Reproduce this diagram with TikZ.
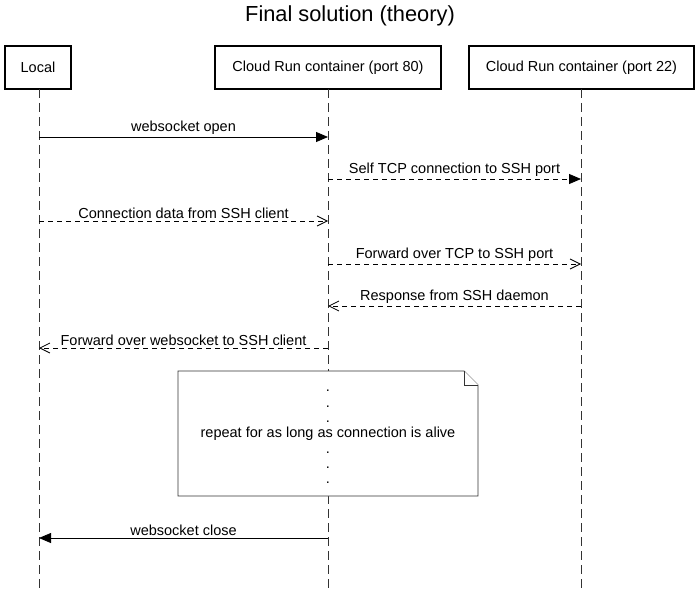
\documentclass[tikz,border=0pt]{standalone}
\usepackage{fontspec}
\setmainfont{Liberation Sans}
\usetikzlibrary{arrows.meta}
\begin{document}
\begin{tikzpicture}[x=1pt,y=-1pt,
  actor/.style={draw=black,line width=1.8pt,minimum height=43pt,inner sep=0pt,font=\fontsize{14.5}{17}\selectfont},
  life/.style={draw=black!80,line width=0.8pt,dash pattern=on 9pt off 5pt},
  msg/.style={font=\fontsize{14.5}{17}\selectfont,inner sep=1pt},
  solidmsg/.style={draw=black,line width=0.8pt,-{Triangle[length=12pt,width=10pt]}},
  dashfill/.style={draw=black,line width=0.8pt,dash pattern=on 5pt off 4pt,-{Triangle[length=12pt,width=10pt]}},
  dashopen/.style={draw=black,line width=0.8pt,dash pattern=on 5pt off 4pt,-{Straight Barb[length=10pt,width=10pt,line width=0.8pt]}},
  notebox/.style={draw=black!80,fill=white,line width=0.8pt}]
\useasboundingbox (0,0) rectangle (700,588);
\node[font=\fontsize{21.8}{25}\selectfont] (title) at (350,16) {Final solution (theory)};
% actors
\node[actor,minimum width=66pt] (A) at (38,67.5) {Local};
\node[actor,minimum width=226pt] (B) at (328,67.5) {Cloud Run container (port 80)};
\node[actor,minimum width=225pt] (C) at (581.5,67.5) {Cloud Run container (port 22)};
% lifeline ends
\coordinate (Ae) at (39,588);
\coordinate (Be) at (328,588);
\coordinate (Ce) at (581,588);
\draw[life] (39,89) -- (Ae);
\draw[life] (328,89) -- (Be);
\draw[life] (581,89) -- (Ce);
% message coordinates
\foreach \n/\y in {1/137,2/179,3/221,4/264,5/306,6/348,7/538}{
  \coordinate (a\n) at (39,\y);
  \coordinate (b\n) at (328,\y);
  \coordinate (c\n) at (581,\y);
}
\draw[solidmsg] (a1) -- node[msg,above=1pt] (m1) {websocket open} (b1);
\draw[dashfill] (b2) -- node[msg,above=1pt] (m2) {Self TCP connection to SSH port} (c2);
\draw[dashopen] (a3) -- node[msg,above=1pt] (m3) {Connection data from SSH client} (b3);
\draw[dashopen] (b4) -- node[msg,above=1pt] (m4) {Forward over TCP to SSH port} (c4);
\draw[dashopen] (c5) -- node[msg,above=1pt] (m5) {Response from SSH daemon} (b5);
\draw[dashopen] (b6) -- node[msg,above=1pt] (m6) {Forward over websocket to SSH client} (a6);
% note
\draw[notebox] (178,371) -- (464,371) -- (478,385) -- (478,496) -- (178,496) -- cycle;
\draw[notebox] (464,371) -- (464,385) -- (478,385);
\node[align=center,font=\fontsize{14.5}{15.3}\selectfont] (note) at (328,437) {.\\.\\.\\repeat for as long as connection is alive\\.\\.\\.};
\draw[solidmsg] (b7) -- node[msg,above=1pt] (m7) {websocket close} (a7);
\end{tikzpicture}
\end{document}
